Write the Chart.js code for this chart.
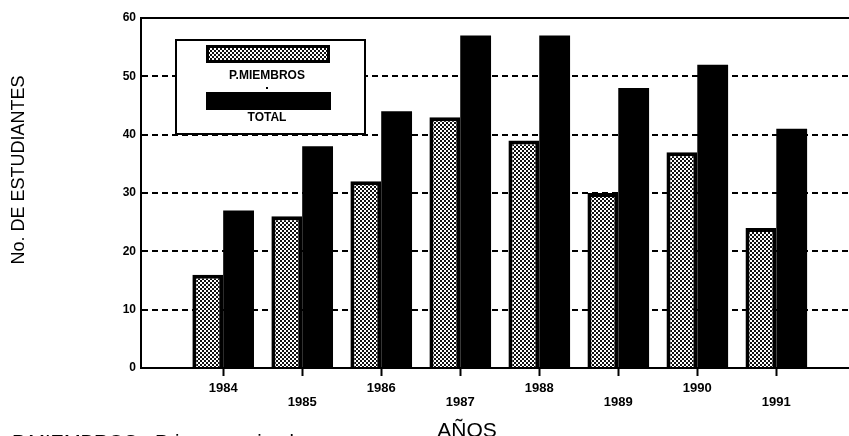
<!DOCTYPE html>
<html>
<head>
<meta charset="utf-8">
<title>No. de estudiantes</title>
<script src="https://cdn.jsdelivr.net/npm/chart.js@4.4.0/dist/chart.umd.min.js"></script>
<style>
    html, body { margin: 0; padding: 0; background: #fff; }
    canvas { display: block; }
</style>
</head>
<body>
<canvas id="chart" width="849" height="436"></canvas>
<script>
// data
var years = [1984, 1985, 1986, 1987, 1988, 1989, 1990, 1991];
var primerosMiembros = [16, 26, 32, 43, 39, 30, 37, 24];
var totalEstudiantes = [27, 38, 44, 57, 57, 48, 52, 41];
var yMin = 0, yMax = 60, yStep = 10;

var FONT = "'Liberation Sans', Arial, Helvetica, sans-serif";
Chart.defaults.font.family = FONT;
Chart.defaults.color = '#000';

var canvas = document.getElementById('chart');
var ctx = canvas.getContext('2d');

// little dotted fill like the printed screen tone
function makeDots() {
    var c = document.createElement('canvas');
    c.width = 4;
    c.height = 4;
    var g = c.getContext('2d');
    g.fillStyle = '#fff';
    g.fillRect(0, 0, 4, 4);
    g.fillStyle = '#111';
    g.fillRect(0, 0, 2, 2);
    g.fillRect(2, 2, 2, 2);
    return ctx.createPattern(c, 'repeat');
}
var dots = makeDots();

function toPoints(vals) {
    var out = [];
    for (var i = 0; i < years.length; i++) {
        out.push({ x: years[i], y: vals[i] });
    }
    return out;
}

// legend box, top frame line and the loose texts
var extras = {
    id: 'extras',
    afterDatasetsDraw: function (chart) {
        var c = chart.ctx;
        var area = chart.chartArea;
        c.save();

        // top line at 60
        c.strokeStyle = '#000';
        c.lineWidth = 2;
        c.beginPath();
        c.moveTo(area.left, area.top);
        c.lineTo(area.right, area.top);
        c.stroke();

        // legend
        c.fillStyle = '#fff';
        c.fillRect(176, 40, 189, 94);
        c.strokeRect(176, 40, 189, 94);

        c.fillStyle = '#000';
        c.fillRect(206, 45, 124, 18);
        c.fillStyle = dots;
        c.fillRect(209, 48, 118, 12);
        c.fillStyle = '#000';
        c.fillRect(206, 92, 125, 18);

        c.font = 'bold 12px ' + FONT;
        c.textAlign = 'center';
        c.textBaseline = 'middle';
        c.fillText(chart.data.datasets[0].label, 267, 76);
        c.fillText(chart.data.datasets[1].label, 267, 118);
        c.fillRect(266, 87, 2, 2);

        // x title
        c.font = '21px ' + FONT;
        c.textBaseline = 'alphabetic';
        c.fillText('AÑOS', 467, 437);

        // note at the bottom, cut by the page edge
        c.textAlign = 'left';
        c.font = '20px ' + FONT;
        c.fillText('P.MIEMBROS - Primeros miembros', 12, 449);

        // y title
        c.translate(19, 170);
        c.rotate(-Math.PI / 2);
        c.textAlign = 'center';
        c.textBaseline = 'middle';
        c.font = '18px ' + FONT;
        c.fillText('No. DE ESTUDIANTES', 0, 0);

        c.restore();
    }
};

var chart = new Chart(ctx, {
    type: 'bar',
    data: {
        datasets: [{
            label: 'P.MIEMBROS',
            data: toPoints(primerosMiembros),
            backgroundColor: dots,
            borderColor: '#000',
            borderWidth: 4,
            borderSkipped: 'bottom'
        },
        {
            label: 'TOTAL',
            data: toPoints(totalEstudiantes),
            backgroundColor: '#000',
            borderWidth: 0
        }]
    },
    options: {
        responsive: false,
        devicePixelRatio: 1,
        animation: false,
        categoryPercentage: 0.78,
        barPercentage: 1,
        layout: { padding: { top: 18, right: 0, bottom: 0, left: 0 } },
        plugins: {
            legend: { display: false },
            tooltip: { enabled: false }
        },
        scales: {
            x: {
                type: 'linear',
                offset: false,
                min: 1982.96,
                max: 1991.92,
                afterFit: function (scale) { scale.height = 68; },
                afterBuildTicks: function (scale) {
                    scale.ticks = years.map(function (y) { return { value: y }; });
                },
                grid: {
                    offset: false,
                    drawOnChartArea: false,
                    drawTicks: true,
                    tickLength: 8,
                    tickWidth: 2,
                    tickColor: '#000'
                },
                border: { display: true, color: '#000', width: 2 },
                ticks: {
                    autoSkip: false,
                    maxRotation: 0,
                    padding: 5,
                    font: { size: 13, weight: 'bold', lineHeight: 14 / 13 },
                    callback: function (value, index) {
                        return index % 2 ? ['', String(value)] : String(value);
                    }
                }
            },
            y: {
                min: yMin,
                max: yMax,
                afterFit: function (scale) { scale.width = 141; },
                grid: {
                    drawTicks: false,
                    lineWidth: 2,
                    color: function (c) {
                        var v = c.tick ? c.tick.value : null;
                        return (v === yMin || v === yMax) ? 'rgba(0,0,0,0)' : '#000';
                    }
                },
                border: { display: true, color: '#000', width: 2, dash: [6, 4] },
                ticks: {
                    stepSize: yStep,
                    padding: 5,
                    font: { size: 12, weight: 'bold' }
                }
            }
        }
    },
    plugins: [extras]
});
</script>
</body>
</html>
